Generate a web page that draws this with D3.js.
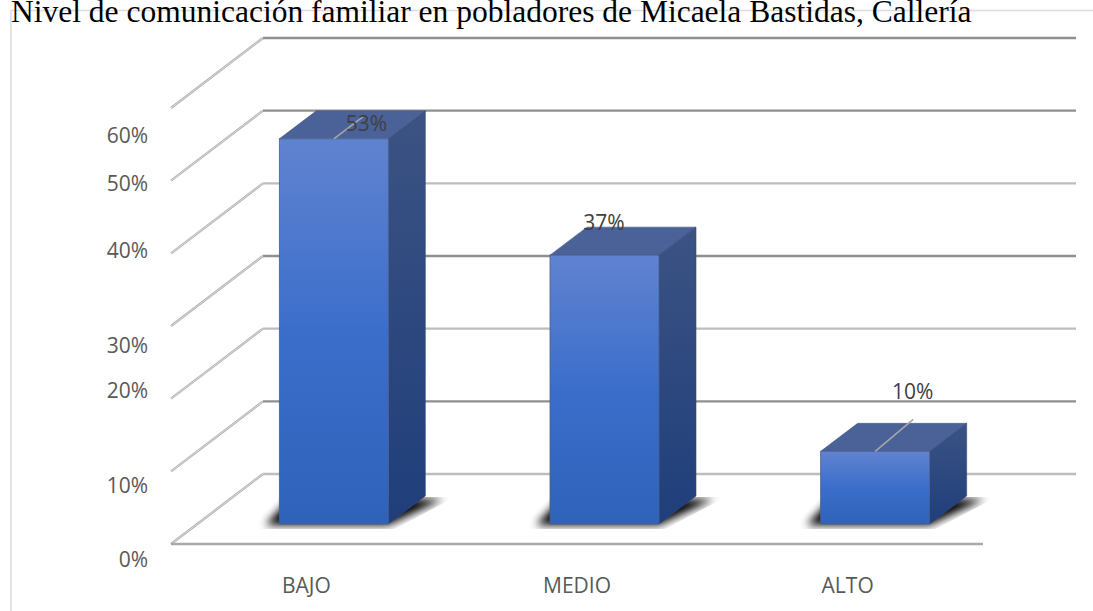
<!DOCTYPE html>
<html><head><meta charset="utf-8">
<script src="https://cdnjs.cloudflare.com/ajax/libs/d3/7.8.5/d3.min.js"></script>
<style>html,body{margin:0;padding:0;background:#fff;overflow:hidden}svg{display:block}</style>
</head><body><svg id="c" width="1093" height="611"></svg>
<script>
const titleText = "Nivel de comunicación familiar en pobladores de Micaela Bastidas, Callería";
const categories = ["BAJO", "MEDIO", "ALTO"];
const values = [53, 37, 10];
const valueLabels = ["53%", "37%", "10%"];
const gridValues = [0, 10, 20, 30, 40, 50, 60];
const tickLabels = ["0%", "10%", "20%", "30%", "40%", "50%", "60%"];
// Tick labels are hand-placed in the reference: baseline offsets from each gridline's front end
const tickLabelDy = [23, 22, -1, 27, 5, 10, 35];
const gridTone = ["#bdbdbd", "#8f8f8f", "#bdbdbd", "#8f8f8f", "#bdbdbd", "#8f8f8f", "#8f8f8f"];

const svg = d3.select("#c");
const x = d3.scaleBand().domain(categories).range([171, 983]);
const y = d3.scaleLinear().domain([0, 60]).range([544, 108]);
const floorDX = 92, floorDY = -70, backRight = 1076;
const barW = 109, barShift = 27.5, depthX = 37, depthY = -28, barBaseLift = 20;
const by = v => y(v) - barBaseLift;
const poly = pts => pts.map(p=>p.join(",")).join(" ");

const defs = svg.append("defs");
function grad(id, stops){
  const g = defs.append("linearGradient").attr("id", id).attr("x1",0).attr("y1",0).attr("x2",0).attr("y2",1);
  stops.forEach(s => g.append("stop").attr("offset", s[0]).attr("stop-color", s[1]));
}
grad("front", [[0,"#6083d0"],[0.5,"#3b6ecb"],[1,"#2f62b9"]]);
grad("side", [[0,"#3c5383"],[1,"#1f3e7b"]]);
defs.append("filter").attr("id","blur").attr("x","-40%").attr("y","-80%").attr("width","180%").attr("height","260%")
  .append("feGaussianBlur").attr("stdDeviation", 4.5);

// frame
svg.append("path").attr("d","M11,611V10.5H1093").attr("fill","none").attr("stroke","#dcdcdc").attr("stroke-width",1.6);

// grid: diagonal walls and back lines
const grid = svg.append("g");
gridValues.forEach((v,i) => {
  const yy = y(v);
  const diag = `M171,${yy}L${171+floorDX},${yy+floorDY}`;
  grid.append("path").attr("d",diag).attr("fill","none").attr("stroke","#b0b0b0").attr("stroke-width",2.4);
  grid.append("path").attr("d",diag).attr("fill","none").attr("stroke","#ececec").attr("stroke-width",0.7);
  grid.append("path").attr("d",`M${171+floorDX},${yy+floorDY}H${backRight}`).attr("fill","none")
    .attr("stroke",gridTone[i]).attr("stroke-width",2.4);
});
// floor front line
grid.append("path").attr("d",`M171,${y(0)}H983`).attr("fill","none").attr("stroke","#a8a8a8").attr("stroke-width",2.6);

// bars
const bars = svg.append("g").selectAll("g").data(categories).join("g");
bars.each(function(c,i){
  const g = d3.select(this);
  const x0 = x(c) + x.bandwidth()/2 + barShift - barW/2, x1 = x0 + barW;
  const top = by(values[i]), base = by(0);
  defs.append("clipPath").attr("id","sc"+i).append("polygon")
    .attr("points", poly([[x0-30,base+5],[x1+6,base+5],[x1+depthX+30,base+depthY+1],[x0,base+depthY+1]]));
  g.append("g").attr("clip-path",`url(#sc${i})`).append("polygon")
    .attr("points", poly([[x0-14,base+1],[x1,base+1],[x1+depthX+18,base+depthY+3],[x0+10,base+depthY+3]]))
    .attr("fill","#000").attr("filter","url(#blur)");
  g.append("polygon").attr("points", poly([[x0,top],[x1,top],[x1+depthX,top+depthY],[x0+depthX,top+depthY]]))
    .attr("fill","#4a6298").attr("stroke","#44598a").attr("stroke-width",0.6);
  g.append("polygon").attr("points", poly([[x1,top],[x1+depthX,top+depthY],[x1+depthX,base+depthY],[x1,base]]))
    .attr("fill","url(#side)").attr("stroke","#34497a").attr("stroke-width",0.6);
  g.append("rect").attr("x",x0).attr("y",top).attr("width",barW).attr("height",base-top)
    .attr("fill","url(#front)").attr("stroke","#4a5f8c").attr("stroke-width",0.8);
});

// leader lines and data labels (hand-placed in the reference)
const leaderEnd = [[29,-22],null,[38,-32]];
const labelDx = [87,54,92], labelDy = [-8,-25,-52];
const labels = svg.append("g");
categories.forEach((c,i)=>{
  const x0 = x(c) + x.bandwidth()/2 + barShift - barW/2, cx = x0 + barW/2, top = by(values[i]);
  if(leaderEnd[i]) labels.append("line").attr("x1",cx).attr("y1",top).attr("x2",cx+leaderEnd[i][0]).attr("y2",top+leaderEnd[i][1])
    .attr("stroke","#a6a6a6").attr("stroke-width",1.6);
  labels.append("text").attr("x",x0+labelDx[i]).attr("y",top+labelDy[i])
    .attr("text-anchor","middle").attr("font-family","'Open Sans'").attr("font-size",21).attr("fill","#404040").text(valueLabels[i]);
});

// axis labels
const tf = "'Open Sans'";
svg.append("g").selectAll("text").data(gridValues).join("text")
  .attr("x",148).attr("y",(v,i)=>y(v)+tickLabelDy[i]).attr("text-anchor","end")
  .attr("font-family",tf).attr("font-size",21).attr("fill","#595959").text((v,i)=>tickLabels[i]);
svg.append("g").selectAll("text").data(categories).join("text")
  .attr("x",c=>x(c)+x.bandwidth()/2).attr("y",593).attr("text-anchor","middle")
  .attr("font-family",tf).attr("font-size",21).attr("fill","#595959").text(c=>c);

svg.append("text").attr("x",11).attr("y",22).attr("font-family","'Liberation Serif'").attr("font-size",31.5).attr("fill","#000").text(titleText);
</script></body></html>
